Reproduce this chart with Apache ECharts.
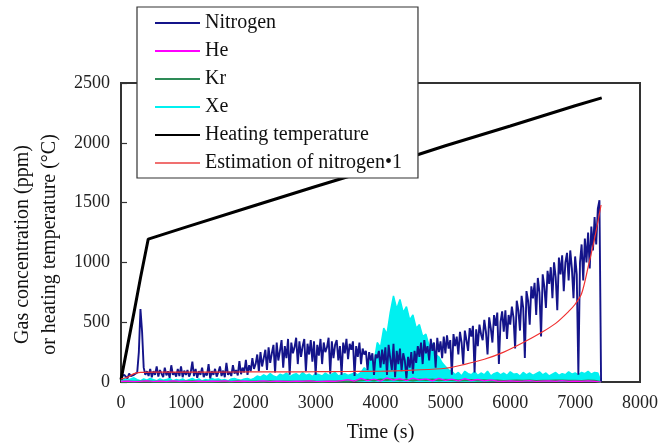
<!DOCTYPE html>
<html>
<head>
<meta charset="utf-8">
<script src="https://cdn.jsdelivr.net/npm/echarts@6/dist/echarts.min.js"></script>
<style>
  html, body { margin: 0; padding: 0; background: #fff; }
  #chart { width: 670px; height: 448px; }
</style>
</head>
<body>
<div id="chart"></div>
<script>
// sampling steps (s)
const step25 = 25;
const step50 = 50;
const step100 = 100;

// Nitrogen (ppm), every 25 s from 0 to 7400
const nitrogen = [
  40, 30, 60, 45, 30, 70, 50, 40, 60, 45, 80,
  250, 610, 420, 120, 60, 90,
  50, 110, 40, 90, 60, 130, 45, 100, 70, 40, 120, 55, 90, 35, 140, 60, 80, 45, 110, 50, 130, 40, 95, 60,
  100, 45, 80, 170, 50, 110, 35, 90, 60, 120, 40, 75, 55, 150, 30, 90, 60, 110, 45, 80,
  130, 50, 95, 40, 160, 60, 85, 50, 140, 70, 100, 55, 175, 65, 120, 80, 185, 60, 140, 90,
  200, 110, 150, 230, 90, 250, 130, 200, 270, 100, 290, 160, 240, 310, 80, 330, 180, 260, 350, 120,
  300, 200, 360, 60, 330, 240, 290, 370, 150, 340, 210, 300, 360, 90, 320, 230, 350, 170, 340, 60,
  310, 220, 360, 150, 330, 250, 290, 370, 70, 340, 200, 310, 350, 180, 300, 60, 330, 240, 360, 190,
  320, 270, 340, 50, 300, 210, 330, 150, 280, 230, 260, 100, 250, 180, 240, 60, 230, 200, 260, 120,
  270, 150, 290, 60, 310, 200, 100, 320, 40, 260, 150, 280, 90, 240, 180, 30, 210, 120, 250, 70,
  260, 160, 300, 210, 330, 150, 350, 240, 300, 180, 360, 260, 330, 120, 370, 250, 340, 200, 380, 240,
  390, 280, 350, 60, 400, 300, 380, 230, 420, 330, 150, 430, 350, 260, 450, 380, 470, 80, 440, 300,
  480, 400, 350, 520, 420, 230, 540, 450, 330, 560, 470, 580, 150, 500, 590, 420, 600, 360, 560, 480,
  630, 540, 280, 680, 600, 430, 720, 620, 200, 760, 680, 480, 800, 700, 830, 560, 870, 750, 380, 900,
  800, 620, 930, 820, 960, 700, 1000, 880, 600, 1040, 900, 1060, 760, 1000, 1080, 850, 1100, 950, 700, 1050,
  900, 60, 1000, 1150, 850, 1200, 1000, 1250, 950, 1300, 1100, 1380, 1150, 1450, 1520, 0
];

// Xe (ppm), every 50 s from 0 to 7400
const xe = [
  20, 30, 15, 25, 35, 20, 10, 25, 15, 30, 20, 10, 25, 15, 20, 30, 10, 20, 15, 25, 10,
  20, 30, 15, 25, 10, 20, 15, 30, 20, 25, 15, 20, 10, 25, 30, 20, 15, 25, 30, 20,
  30, 50, 40, 60, 45, 70, 50, 40, 65, 55, 75, 45, 60, 70, 50, 80, 55, 65, 45, 70,
  60, 50, 75, 55, 65, 80, 50, 60, 70, 55, 65, 75, 60, 80,
  120, 90, 200, 160, 330, 290, 450, 400, 580, 720, 610, 690, 580, 630, 520, 560, 450, 480,
  380, 400, 300, 320, 230, 210, 160, 130, 100, 90,
  60, 80, 50, 90, 70, 60, 85, 55, 75, 60, 90, 50, 70, 80, 60, 75, 55, 85, 65, 70, 50, 80,
  60, 75, 55, 70, 85, 60, 75, 50, 65, 80, 55, 70, 60, 85, 65, 75, 60, 80, 70, 90, 65, 80, 75,
  0
];

// Kr (ppm), every 100 s from 0 to 7400
const kr = [
  3, 5, 2, 4, 6, 3, 5, 2, 4, 3, 5, 6, 2, 4, 3, 5, 4, 2, 6, 3, 5, 4, 3, 6, 2, 5, 4, 3, 5, 6, 4, 3, 5, 4, 6, 5, 8,
  14, 18, 12, 20, 16, 22, 15, 19, 13, 21, 17, 20, 14, 18, 16, 12, 15, 17, 13, 14,
  10, 12, 9, 11, 13, 10, 12, 9, 11, 10, 13, 12, 10, 11, 9, 12, 10,
  0
];

// He (ppm), every 100 s from 0 to 7400
const he = [
  5, 8, 3, 6, 10, 4, 7, 3, 9, 5, 6, 4, 8, 3, 7, 5, 10, 4, 6, 8, 3, 5, 9, 4, 7, 6, 3, 8, 5, 10, 4, 6, 8, 5, 12,
  20, 8, 30, 12, 25, 6, 35, 15, 28, 10, 32, 18, 26, 9, 30, 14, 24, 8, 28, 12, 22, 10, 18, 8,
  6, 10, 5, 8, 12, 4, 7, 9, 5, 11, 6, 8, 5, 9, 6,
  0
];

// heating temperature (°C)
const tempTime = [0, 100, 200, 300, 420, 1000, 2000, 3000, 4000, 5000, 6000, 7000, 7410];
const temp = [20, 300, 580, 870, 1195, 1295, 1465, 1635, 1800, 1975, 2140, 2310, 2376];

// estimation of nitrogen
const estTime = [0, 100, 200, 300, 500, 1000, 1500, 2000, 2500, 3000, 3500, 4000, 4500, 5000,
  5300, 5600, 5900, 6200, 6500, 6700, 6900, 7000, 7100, 7200, 7300, 7400];
const est = [25, 40, 70, 80, 82, 82, 83, 84, 85, 86, 88, 90, 100, 115,
  148, 190, 250, 330, 420, 490, 590, 650, 740, 960, 1200, 1480];

const xTicks = [0, 1000, 2000, 3000, 4000, 5000, 6000, 7000, 8000];
const yTicks = [0, 500, 1000, 1500, 2000, 2500];

const pairs = (vals, step) => vals.map((v, i) => [i * step, v]);
const zip = (ts, vals) => ts.map((t, i) => [t, vals[i]]);

const serif = "Liberation Serif";
const chart = echarts.init(document.getElementById("chart"));

chart.setOption({
  animation: false,
  backgroundColor: "#fff",
  grid: {
    left: 121, right: 30, top: 83, bottom: 62,
    show: true, borderColor: "#333", borderWidth: 2, backgroundColor: "transparent"
  },
  legend: {
    data: ["Nitrogen", "He", "Kr", "Xe", "Heating temperature", "Estimation of nitrogen\u20221"],
    orient: "vertical",
    left: 137, top: 7,
    icon: "rect",
    itemWidth: 45, itemHeight: 2, itemGap: 8,
    padding: [6, 16, 5, 18],
    backgroundColor: "#fff",
    borderColor: "#333", borderWidth: 1.2, borderRadius: 0,
    textStyle: { fontFamily: serif, fontSize: 20, color: "#111", lineHeight: 20 }
  },
  xAxis: {
    type: "value",
    min: xTicks[0], max: xTicks[xTicks.length - 1], interval: 1000,
    name: "Time (s)", nameLocation: "middle", nameGap: 41,
    nameTextStyle: { fontFamily: serif, fontSize: 20, color: "#111" },
    axisLine: { show: false },
    axisTick: { show: false },
    splitLine: { show: false },
    axisLabel: { fontFamily: serif, fontSize: 18, color: "#222", margin: 12, formatter: v => String(v) }
  },
  yAxis: {
    type: "value",
    min: yTicks[0], max: yTicks[yTicks.length - 1], interval: 500,
    name: "Gas concentration (ppm)\nor heating temperature (\u00b0C)",
    nameLocation: "middle", nameRotate: 90, nameGap: 56,
    nameTextStyle: { fontFamily: serif, fontSize: 20, color: "#111", lineHeight: 27, padding: [0, 24, 0, 0] },
    axisLine: { show: false },
    axisTick: { show: true, inside: true, length: 6, lineStyle: { color: "#333", width: 1.2 } },
    splitLine: { show: false },
    axisLabel: { fontFamily: serif, fontSize: 18, color: "#222", margin: 11, formatter: v => String(v) }
  },
  series: [
    {
      name: "Xe", type: "line", symbol: "none", data: pairs(xe, step50),
      lineStyle: { color: "#00f0f0", width: 1.5 },
      itemStyle: { color: "#00f0f0" },
      areaStyle: { color: "#00f0f0", opacity: 1 }
    },
    {
      name: "Nitrogen", type: "line", symbol: "none", data: pairs(nitrogen, step25),
      lineStyle: { color: "#14148a", width: 1.9 },
      itemStyle: { color: "#14148a" }
    },
    {
      name: "Kr", type: "line", symbol: "none", data: pairs(kr, step100),
      lineStyle: { color: "#2e8b57", width: 2 },
      itemStyle: { color: "#2e8b57" }
    },
    {
      name: "He", type: "line", symbol: "none", data: pairs(he, step100),
      lineStyle: { color: "#ff00ff", width: 1.2 },
      itemStyle: { color: "#ff00ff" }
    },
    {
      name: "Heating temperature", type: "line", symbol: "none", data: zip(tempTime, temp),
      lineStyle: { color: "#000", width: 3 },
      itemStyle: { color: "#000" }
    },
    {
      name: "Estimation of nitrogen\u20221", type: "line", symbol: "none", smooth: 0.3,
      data: zip(estTime, est),
      lineStyle: { color: "#f03030", width: 1.2 },
      itemStyle: { color: "#f07070" }
    }
  ]
});
</script>
</body>
</html>
